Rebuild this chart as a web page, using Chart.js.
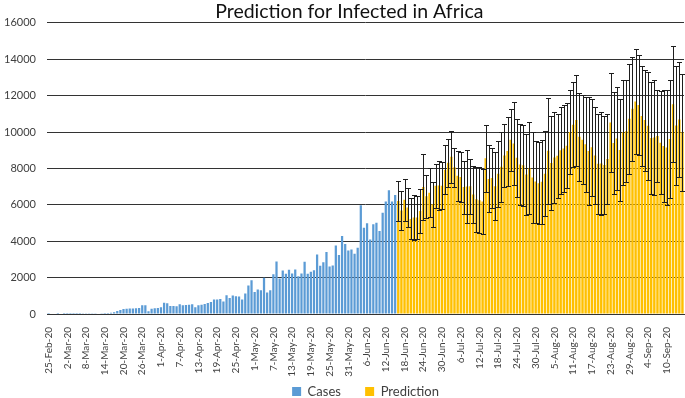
<!DOCTYPE html>
<html><head><meta charset="utf-8">
<script src="https://cdn.jsdelivr.net/npm/chart.js@4.4.1/dist/chart.umd.min.js"></script>
<style>html,body{margin:0;padding:0;background:#fff}#wrap{width:685px;height:398px}</style>
</head><body><div id="wrap"><canvas id="c" width="685" height="398"></canvas></div>
<script>
// ---- categories: daily dates 25-Feb-20 .. 15-Sep-20 ----
const firstDate = [2020, 1, 25];   // year, month index, day
const dayCount = 204;
const monthNames = ['Jan','Feb','Mar','Apr','May','Jun','Jul','Aug','Sep','Oct','Nov','Dec'];
const categories = [];
for (let i = 0; i < dayCount; i++) {
  const d = new Date(Date.UTC(firstDate[0], firstDate[1], firstDate[2] + i));
  categories.push(d.getUTCDate() + '-' + monthNames[d.getUTCMonth()] + '-20');
}
const labelEvery = 6;
const yTicks = [0, 2000, 4000, 6000, 8000, 10000, 12000, 14000, 16000];

// ---- observed daily cases (25-Feb .. 15-Jun) ----
const cases = [
  1,0,0,1,0,2,1,3,2,6,5,8,10,12,15,20,30,40,50,60,75,
  92,165,220,276,294,300,300,310,330,
  478,480,150,294,312,330,368,625,588,441,
  441,423,533,478,496,515,533,368,478,515,
  551,606,662,790,790,827,680,1029,882,1011,
  974,956,790,1121,1562,1857,1213,1342,1305,1985,
  1176,1305,2188,2886,1950,2390,2210,2430,2220,2440,
  2080,2220,2870,2210,2320,2410,3270,2650,2850,3400,
  2610,2660,3770,3240,4280,3840,3490,3550,3310,3640,
  5970,4740,4980,4100,4930,5020,4560,5570,6180,6800,6180,6540
];

// ---- prediction (16-Jun .. 15-Sep) with error-bar limits ----
const prediction = [
  6205,5685,6275,5850,5225,5300,5300,5665,6975,6470,
  6665,6035,7045,7055,7050,7925,8305,8635,8060,7600,
  7525,6975,7005,7020,6565,6305,6255,6175,8560,7420,
  7470,7020,7700,8085,8705,8950,9580,9375,8590,8215,
  8175,7665,8010,7505,7275,7185,7270,7710,8965,8300,
  8600,8700,8995,9100,9250,9995,10405,10655,9745,9580,
  9325,8950,9165,8705,8260,8265,8190,8520,10525,9395,
  9645,9010,9990,10035,10725,11280,11670,11490,10885,10655,
  10340,9670,9695,9780,9415,9230,9145,9620,11530,10360,
  10685,9990
];
const predUpper = [
  7290,6770,7430,6900,6350,6550,6500,6860,8800,7640,
  8000,7270,8240,8390,8340,9260,9620,10080,9130,8980,
  8920,8430,9020,8520,8110,8100,8060,7970,10400,9260,
  9130,8890,9500,9990,10450,10850,11280,11650,10730,10450,
  10410,9900,10540,9990,9530,9440,9570,10030,11890,10900,
  11100,11000,11400,11500,11600,12290,12750,13160,12170,12020,
  11950,11900,11830,11370,11000,11100,10900,11000,13250,12200,
  12480,11800,12880,12840,13760,14130,14540,14220,13620,13430,
  13300,12750,12840,12330,12240,12330,12290,12840,14720,13620,
  13860,13210
];
const predLower = [
  5120,4600,5120,4800,4100,4050,4100,4470,5150,5300,
  5330,4800,5850,5720,5760,6590,6990,7190,6990,6220,
  6130,5520,4990,5520,5020,4510,4450,4380,6720,5580,
  5810,5150,5900,6180,6960,7050,7880,7100,6450,5980,
  5940,5430,5480,5020,5020,4930,4970,5390,6040,5700,
  6100,6400,6590,6700,6900,7700,8060,8150,7320,7140,
  6700,6000,6500,6040,5520,5430,5480,6040,7800,6590,
  6810,6220,7100,7230,7690,8430,8800,8760,8150,7880,
  7380,6590,6550,7230,6590,6130,6000,6400,8340,7100,
  7510,6770
];

const caseData = categories.map((_, i) => i < cases.length ? cases[i] : null);
const predData = categories.map((_, i) => {
  const k = i - cases.length;
  return (k >= 0 && k < prediction.length) ? prediction[k] : null;
});

const errorBars = {
  id: 'errorBars',
  afterDatasetsDraw(chart) {
    const { ctx, scales: { x, y } } = chart;
    ctx.save();
    ctx.strokeStyle = '#1e1e1e';
    ctx.lineWidth = 1;
    for (let k = 0; k < prediction.length; k++) {
      const px = Math.round(x.getPixelForValue(cases.length + k)) + 0.5;
      const yt = Math.round(y.getPixelForValue(predUpper[k])) + 0.5;
      const yb = Math.round(y.getPixelForValue(predLower[k])) + 0.5;
      ctx.beginPath();
      ctx.moveTo(px, yt); ctx.lineTo(px, yb);
      ctx.moveTo(px - 2.5, yt); ctx.lineTo(px + 2.5, yt);
      ctx.moveTo(px - 2.5, yb); ctx.lineTo(px + 2.5, yb);
      ctx.stroke();
    }
    ctx.restore();
  }
};

const FONT = 'Lato, "Open Sans", sans-serif';
new Chart(document.getElementById('c'), {
  type: 'bar',
  data: {
    labels: categories,
    datasets: [
      { label: 'Cases\u2003\u2002', data: caseData, backgroundColor: '#5B9BD5', grouped: false,
        barPercentage: 0.72, categoryPercentage: 1.0 },
      { label: 'Prediction', data: predData, backgroundColor: '#FFC000', grouped: false,
        barPercentage: 0.78, categoryPercentage: 1.0 }
    ]
  },
  options: {
    responsive: false,
    animation: false,
    devicePixelRatio: 1,
    layout: { padding: { left: 0, right: 1, top: 0, bottom: -10 } },
    plugins: {
      title: { display: true, text: '\u2003Prediction for Infected in Africa',
        color: '#111', font: { family: FONT, size: 19.5, weight: 'normal', lineHeight: 1.17 },
        padding: { top: 0, bottom: 0 } },
      legend: { position: 'bottom', fullSize: false,
        labels: { boxWidth: 9, boxHeight: 9, padding: 8, color: '#404040',
          font: { family: FONT, size: 13 } } },
      tooltip: { enabled: false }
    },
    scales: {
      x: {
        grid: { display: false },
        border: { display: true, color: '#333', width: 1 },
        afterFit: (s) => { s.paddingRight = 0; s.paddingLeft = 0; s.height = 63; },
        ticks: { autoSkip: false, maxRotation: 90, minRotation: 90, padding: 5,
          color: '#404040', font: { family: FONT, size: 10 },
          callback: (v, i) => (i % labelEvery === 0 ? categories[i] : '') }
      },
      y: {
        min: 0, max: 16000,
        afterBuildTicks: (axis) => { axis.ticks = yTicks.map(v => ({ value: v })); },
        afterFit: (s) => { s.width = 47; },
        grid: { color: '#333', lineWidth: 1, drawTicks: false },
        border: { display: false },
        ticks: { padding: 11, color: '#404040', font: { family: FONT, size: 11 },
          callback: (v) => String(v) }
      }
    }
  },
  plugins: [errorBars]
});
</script></body></html>
